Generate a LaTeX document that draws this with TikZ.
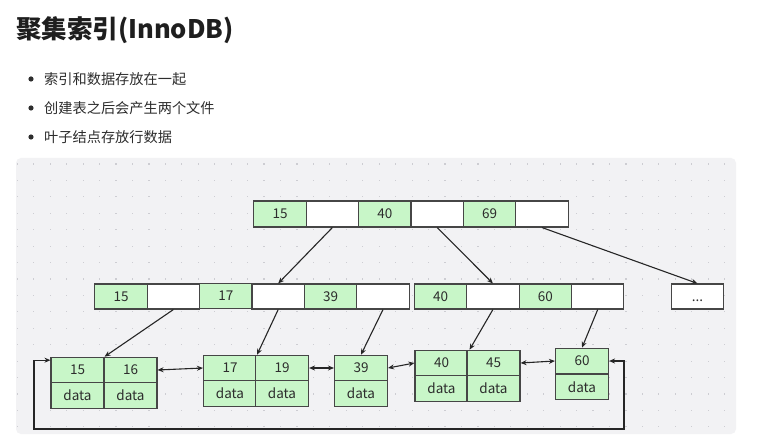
\documentclass[tikz,border=0pt]{standalone}
\usepackage{fontspec}
\setmainfont{Noto Sans CJK SC}
\usetikzlibrary{arrows.meta,calc}
\definecolor{panel}{RGB}{242,242,244}
\definecolor{griddot}{RGB}{205,205,210}
\definecolor{cellgreen}{RGB}{200,246,200}
\definecolor{cellline}{RGB}{70,70,70}
\definecolor{titlecol}{RGB}{30,30,30}
\definecolor{textcol}{RGB}{45,45,45}
\tikzset{
  cell/.style={draw=cellline, line width=1.1pt, minimum width=52.4pt, minimum height=26pt, inner sep=0pt, font=\fontsize{13.5}{15}\selectfont, text=textcol},
  gcell/.style={cell, fill=cellgreen},
  wcell/.style={cell, fill=white},
  lcell/.style={cell, fill=cellgreen, minimum width=53pt, minimum height=25.5pt},
  link/.style={draw=black!85, line width=1.1pt, -{Stealth[length=6pt,width=5pt]}},
  dlink/.style={draw=black!85, line width=1.1pt, {Stealth[length=6pt,width=5pt]}-{Stealth[length=6pt,width=5pt]}},
  bullettext/.style={anchor=west, inner sep=0pt, font=\fontsize{14.2}{16}\selectfont, text=textcol}
}
\begin{document}
\begin{tikzpicture}[x=1pt,y=-1pt]
\useasboundingbox (0,0) rectangle (757,443);
\fill[white] (0,0) rectangle (757,443);
% title and bullets
\node[anchor=west, inner sep=0pt, font=\fontsize{25.5}{28}\selectfont\bfseries, text=titlecol] (title) at (16,30) {聚集索引(InnoDB)};
\foreach \yy/\tx/\nm in {79/索引和数据存放在一起/b1, 108/创建表之后会产生两个文件/b2, 137/叶子结点存放行数据/b3}{
  \fill[textcol] (31,\yy) circle (2.6pt);
  \node[bullettext] (\nm) at (44,\yy) {\tx};
}
% panel
\fill[panel, rounded corners=5pt] (16,158) rectangle (736,434);
\foreach \i in {0,...,43}{
  \foreach \j in {0,...,16}{
    \fill[griddot] ({17.3+16.45*\i-0.6},{164+16.43*\j-0.6}) rectangle ++(1.2,1.2);
  }
}
% root
\node[gcell] (t1) at (280,214) {15};
\node[wcell] (t2) at (332.4,214) {};
\node[gcell] (t3) at (384.8,214) {40};
\node[wcell] (t4) at (437.2,214) {};
\node[gcell] (t5) at (489.6,214) {69};
\node[wcell] (t6) at (542,214) {};
% level 2 left
\node[gcell, minimum height=25pt] (l1) at (121,296.5) {15};
\node[wcell, minimum height=25pt] (l2) at (173.4,296.5) {};
\node[gcell, minimum height=25pt] (l3) at (225.8,295.8) {17};
\node[wcell, minimum height=25pt] (l4) at (278.2,296.5) {};
\node[gcell, minimum height=25pt] (l5) at (330.6,296.5) {39};
\node[wcell, minimum height=25pt] (l6) at (383,296.5) {};
% level 2 middle
\node[gcell, minimum height=25pt] (m1) at (440.5,296.5) {40};
\node[wcell, minimum height=25pt] (m2) at (492.9,296.5) {};
\node[gcell, minimum height=25pt] (m3) at (545.3,296.5) {60};
\node[wcell, minimum height=25pt] (m4) at (597.7,296.5) {};
% dots
\node[wcell, minimum height=25pt] (dd) at (697.5,296.5) {};
\node[inner sep=0pt, font=\fontsize{13.5}{15}\selectfont, text=textcol] (ddt) at (697.5,301) {...};
% leaves
\node[lcell] (a1) at (77.5,370) {15};
\node[lcell] (a2) at (130.5,370) {16};
\node[lcell] (a3) at (77.5,395.5) {data};
\node[lcell] (a4) at (130.5,395.5) {data};
\node[lcell] (c1) at (230,368) {17};
\node[lcell] (c2) at (282,368) {19};
\node[lcell] (c3) at (230,393.5) {data};
\node[lcell] (c4) at (282,393.5) {data};
\node[lcell] (e1) at (361,368) {39};
\node[lcell] (e3) at (361,393.5) {data};
\node[lcell] (f1) at (441.5,363) {40};
\node[lcell] (f2) at (493.5,363) {45};
\node[lcell] (f3) at (441.5,388.5) {data};
\node[lcell] (f4) at (493.5,388.5) {data};
\node[lcell] (g1) at (582,361) {60};
\node[lcell] (g3) at (582,387) {data};
% tree links
\draw[link] (t2.south) -- (l4.north);
\draw[link] (t4.south) -- (m2.north);
\draw[link] (t6.south) -- (dd.north);
\draw[link] (l2.south) -- (a1.north east);
\draw[link] (l4.south) -- (c1.north east);
\draw[link] (l6.south) -- (e1.north);
\draw[link] (m2.south) -- ($(f1.north east)+(1,0)$);
\draw[link] (m4.south) -- (g1.north);
% leaf links
\draw[dlink] (a2.east) -- (c1.west);
\draw[dlink] (c2.east) -- (e1.west);
\draw[dlink] (e1.east) -- (f1.west);
\draw[dlink] (f2.east) -- (g1.west);
\coordinate (loopR) at (624,429);
\coordinate (loopL) at (34,429);
\coordinate (in1) at ($(a1.north west)+(0,3.5)$);
\draw[dlink] (g1.east) -| (loopR) -- (loopL) |- (in1);
\end{tikzpicture}
\end{document}
